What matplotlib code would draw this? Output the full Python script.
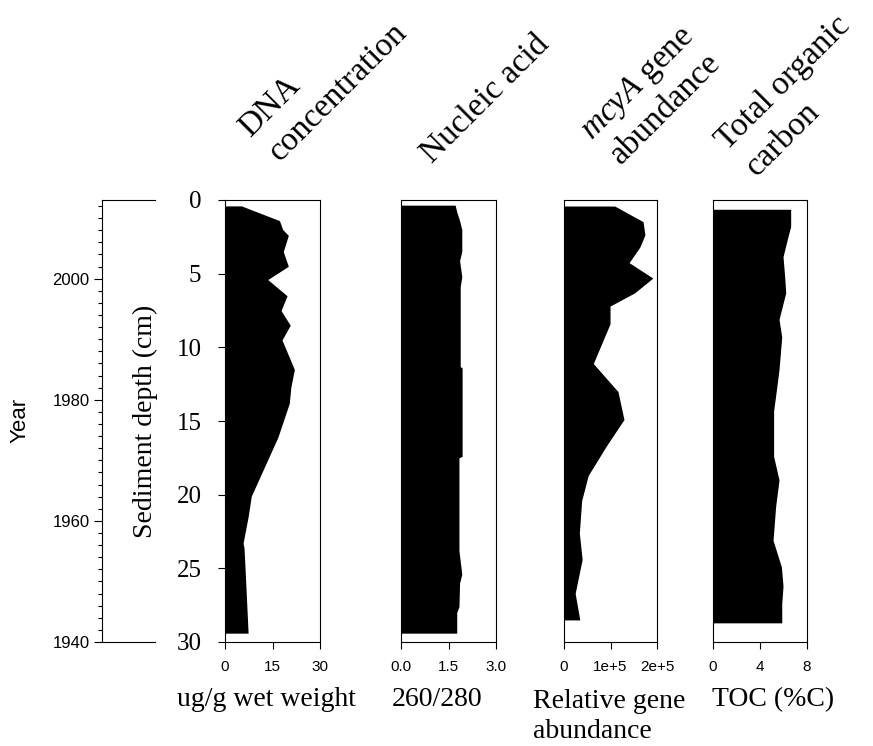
import matplotlib
matplotlib.use("Agg")
import matplotlib.pyplot as plt

plt.rcParams['font.family'] = ['Liberation Serif', 'DejaVu Serif']
plt.rcParams['mathtext.fontset'] = 'custom'
plt.rcParams['mathtext.rm'] = 'Liberation Serif'
plt.rcParams['mathtext.it'] = 'Liberation Serif:italic'

# DNA concentration (ug/g wet weight) vs depth (cm)
dna_depth = [0.4, 1.4, 2.0, 2.4, 3.5, 4.5, 5.4, 6.5, 7.5, 8.5, 9.5, 11.5, 12.7, 13.8,
             16.1, 18.1, 20.1, 21.5, 23.3, 23.6, 24.4, 29.4]
dna_val = [5.2, 17.2, 18.2, 20.0, 18.4, 20.0, 13.5, 19.6, 17.7, 20.6, 18.0, 21.9, 20.8, 20.3,
           16.7, 12.5, 8.3, 7.3, 5.7, 6.0, 6.2, 7.3]

# Nucleic acid 260/280
na_depth = [0.35, 0.8, 1.4, 2.0, 3.5, 4.1, 5.2, 5.9, 11.3, 11.4, 17.4, 17.5, 23.8,
            24.5, 25.4, 26.0, 27.6, 28.0, 29.4]
na_val = [1.71, 1.76, 1.85, 1.92, 1.92, 1.85, 1.92, 1.87, 1.87, 1.93, 1.93, 1.83, 1.83,
          1.87, 1.92, 1.85, 1.83, 1.76, 1.76]

# mcyA relative gene abundance
mcy_depth = [0.41, 1.47, 2.37, 3.2, 4.25, 5.3, 6.3, 7.2, 8.4, 11.1, 13.0, 14.9, 16.7,
             18.7, 20.4, 22.6, 24.4, 26.7, 28.5]
mcy_val = [1.09e5, 1.70e5, 1.74e5, 1.63e5, 1.40e5, 1.91e5, 1.52e5, 0.99e5, 0.99e5, 0.63e5,
           1.16e5, 1.29e5, 0.91e5, 0.52e5, 0.38e5, 0.33e5, 0.39e5, 0.24e5, 0.34e5]

# Total organic carbon (%C)
toc_depth = [0.63, 1.81, 2.49, 3.85, 5.2, 6.3, 8.1, 9.3, 11.5, 13.3, 14.3, 17.4, 19.0,
             20.8, 23.1, 24.9, 26.2, 27.4, 28.7]
toc_val = [6.61, 6.61, 6.38, 5.96, 6.10, 6.19, 5.62, 5.85, 5.62, 5.33, 5.16, 5.16, 5.62,
           5.33, 5.11, 5.82, 5.96, 5.85, 5.85]

titles = ["DNA\nconcentration", "Nucleic acid", "$mcyA$ gene\nabundance", "Total organic\ncarbon"]
units = ["ug/g wet weight", "260/280", "Relative gene\nabundance", "TOC (%C)"]
xlims = [(0, 30), (0, 3), (0, 2e5), (0, 8)]
xticks = [[0, 15, 30], [0, 1.5, 3], [0, 1e5, 2e5], [0, 4, 8]]
xticklabels = [["0", "15", "30"], ["0.0", "1.5", "3.0"], ["0", "1e+5", "2e+5"], ["0", "4", "8"]]

W, H = 873, 746
fig = plt.figure(figsize=(W / 100, H / 100), dpi=100)


def px(x0, y0, x1, y1):
    return [x0 / W, 1 - y1 / H, (x1 - x0) / W, (y1 - y0) / H]


top, bot = 200, 642
panel_x = [(225, 320), (401, 496), (564, 657), (713, 807)]
data = [(dna_depth, dna_val), (na_depth, na_val), (mcy_depth, mcy_val), (toc_depth, toc_val)]
# baseline start of each title line (pixels)
title_lines_at = [[(250, 138), (280, 162)], [(432, 164)], [(592, 141), (621, 165)],
                  [(727, 151), (757, 177)]]
unit_anchor = [(177, 706), (392, 706), (533, 738), (712, 706)]

for i, ((x0, x1), (d, v)) in enumerate(zip(panel_x, data)):
    ax = fig.add_axes(px(x0, top, x1, bot))
    ax.fill_betweenx(d, 0, v, color="black", linewidth=0)
    ax.set_xlim(*xlims[i])
    ax.set_ylim(30, 0)
    ax.set_xticks(xticks[i])
    ax.set_xticklabels(xticklabels[i], family=['Liberation Sans', 'DejaVu Sans'], fontsize=11)
    ax.tick_params(axis="x", direction="out", length=5, width=0.8, pad=8)
    for s in ax.spines.values():
        s.set_linewidth(0.8)
    if i == 0:
        ax.set_yticks([0, 5, 10, 15, 20, 25, 30])
        ax.tick_params(axis="y", direction="out", length=5, width=0.8, pad=12, labelsize=18)
    else:
        ax.set_yticks([])
    for line, (tx, ty) in zip(titles[i].split("\n"), title_lines_at[i]):
        fig.text(tx / W, 1 - ty / H, line, rotation=45, rotation_mode="anchor",
                 ha="left", va="baseline", fontsize=24)
    ux, uy = unit_anchor[i]
    fig.text(ux / W, 1 - uy / H, units[i], ha="left", va="baseline", fontsize=20,
             linespacing=1.25)

# Year axis
yax = fig.add_axes(px(102, top, 155, bot))
yax.set_ylim(1940, 2013)
yax.set_xticks([])
yax.spines["right"].set_visible(False)
for s in yax.spines.values():
    s.set_linewidth(0.8)
yax.set_yticks([1940, 1960, 1980, 2000])
yax.set_yticks(list(range(1942, 2013, 2)), minor=True)
yax.tick_params(axis="y", which="major", length=6, width=0.8, labelsize=12, pad=3)
yax.tick_params(axis="y", which="minor", length=3, width=0.8)
for lab in yax.get_yticklabels():
    lab.set_family(['Liberation Sans', 'DejaVu Sans'])

fig.text(20 / W, 1 - 420 / H, "Year", rotation=90, ha="center", va="center",
         fontsize=16, family=['Liberation Sans', 'DejaVu Sans'])
fig.text(145 / W, 1 - 421 / H, "Sediment depth (cm)", rotation=90, ha="center",
         va="center", fontsize=20)

fig.savefig("out.png", dpi=100)
plt.close(fig)
